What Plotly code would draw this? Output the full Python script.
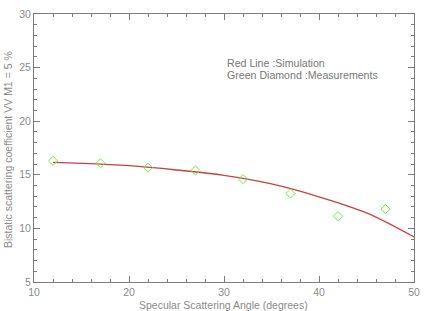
import plotly.graph_objects as go

# Measurements (green diamonds)
meas_angle = [12, 17, 22, 27, 32, 37, 42, 47]
meas_value = [16.3, 16.07, 15.67, 15.4, 14.6, 13.25, 11.14, 11.8]

# Simulation (red line)
sim_angle = [12, 15, 20, 25, 30, 35, 40, 45, 50]
sim_value = [16.15, 16.07, 15.85, 15.45, 14.95, 14.15, 12.95, 11.45, 9.2]

x_ticks = [10, 20, 30, 40, 50]
y_ticks = [5, 10, 15, 20, 25, 30]

axis_col = "#7a7a7a"
text_col = "#8a8a8a"
font_fam = "Liberation Sans, DejaVu Sans, sans-serif"

L, R, T, B, W, H = 34, 10, 14, 29, 424, 311
PW, PH = W - L - R, H - T - B


def px(x):
    return (x - L) / PW


def py(y):
    return 1 - (y - T) / PH


fig = go.Figure()
fig.add_trace(go.Scatter(x=sim_angle, y=sim_value, mode="lines",
                         line=dict(color="#c84040", width=1.3, shape="spline"),
                         showlegend=False))
fig.add_trace(go.Scatter(x=meas_angle, y=meas_value, mode="markers",
                         marker=dict(symbol="diamond-open", size=7,
                                     color="#66ee44", line=dict(width=1, color="#66ee44")),
                         showlegend=False))

fig.add_annotation(x=px(225), y=py(63), xref="paper", yref="paper",
                   xanchor="left", yanchor="middle", text="Red Line :Simulation", showarrow=False,
                   font=dict(size=10.6, color="#777777", family=font_fam))
fig.add_annotation(x=px(225), y=py(74.5), xref="paper", yref="paper",
                   xanchor="left", yanchor="middle", text="Green Diamond :Measurements",
                   showarrow=False, font=dict(size=10.6, color="#777777", family=font_fam))

# axis titles as annotations (fixed margins)
fig.add_annotation(x=px(223), y=py(304.5), xref="paper", yref="paper",
                   xanchor="center", yanchor="middle", text="Specular Scattering Angle (degrees)",
                   showarrow=False, font=dict(size=10.5, color=text_col, family=font_fam))
fig.add_annotation(x=px(8), y=py(150), xref="paper", yref="paper",
                   xanchor="center", yanchor="middle", textangle=-90,
                   text="Bistatic scattering coefficient VV M1 = 5 %",
                   showarrow=False, font=dict(size=10.5, color=text_col, family=font_fam))

common = dict(showgrid=False, zeroline=False, showline=True, linecolor=axis_col, linewidth=1,
              mirror="ticks", ticks="inside", ticklen=6, tickcolor=axis_col, tickwidth=1,
              automargin=False,
              tickfont=dict(size=10.5, color=text_col, family=font_fam))

fig.update_xaxes(range=[10, 50], tickvals=x_ticks, ticktext=[str(v) for v in x_ticks],
                 minor=dict(dtick=2, ticks="inside", ticklen=3, tickcolor=axis_col, tickwidth=1),
                 **common)
fig.update_yaxes(range=[5, 30], tickvals=y_ticks, ticktext=[str(v) for v in y_ticks],
                 minor=dict(dtick=1, ticks="inside", ticklen=3, tickcolor=axis_col, tickwidth=1),
                 **common)

fig.update_layout(width=W, height=H, margin=dict(l=L, r=R, t=T, b=B),
                  plot_bgcolor="white", paper_bgcolor="white")

fig.write_html("out.html", config={"displayModeBar": False},
               post_script="document.body.style.margin='0';")
